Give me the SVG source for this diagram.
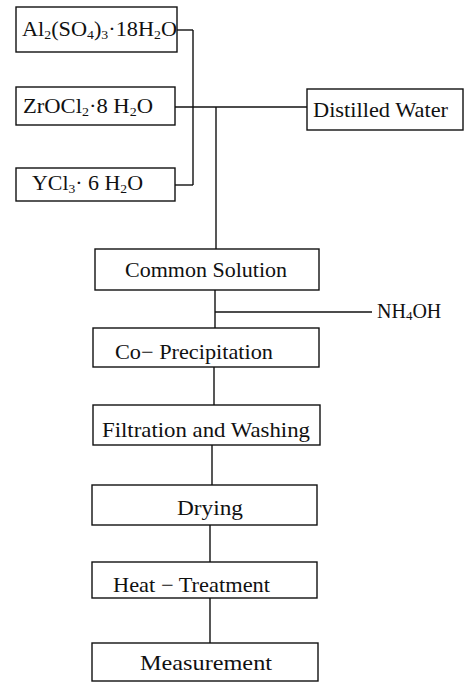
<svg xmlns="http://www.w3.org/2000/svg" width="466" height="685" viewBox="0 0 466 685">
<style>
.b{fill:#fff;stroke:#111;stroke-width:1.4}
line{stroke:#111;stroke-width:1.4}
text{font-family:"Liberation Serif","DejaVu Serif","Times New Roman",serif;font-size:21px;fill:#111}
.s{font-size:13px}
</style>
<rect x="0" y="0" width="466" height="685" style="fill:#fff;stroke:none"/>
<g id="connectors">
<line x1="177" y1="30" x2="193" y2="30"/>
<line x1="193" y1="30" x2="193" y2="185"/>
<line x1="175" y1="185" x2="193" y2="185"/>
<line x1="175" y1="107" x2="307" y2="107"/>
<line x1="216" y1="107" x2="216" y2="249"/>
<line x1="215" y1="290" x2="215" y2="328"/>
<line x1="215" y1="312" x2="372" y2="312"/>
<line x1="214" y1="367" x2="214" y2="405"/>
<line x1="212" y1="445" x2="212" y2="485"/>
<line x1="210" y1="525" x2="210" y2="562"/>
<line x1="210" y1="598" x2="210" y2="643"/>
</g>
<g id="al">
<rect class="b" x="16" y="7" width="161" height="45"/>
<text x="22" y="36" textLength="155" lengthAdjust="spacingAndGlyphs">Al<tspan class="s" dy="3">2</tspan><tspan dy="-3">(SO</tspan><tspan class="s" dy="3">4</tspan><tspan dy="-3">)</tspan><tspan class="s" dy="3">3</tspan><tspan dy="-3">·18H</tspan><tspan class="s" dy="3">2</tspan><tspan dy="-3">O</tspan></text>
</g>
<g id="zr">
<rect class="b" x="16" y="87" width="159" height="38"/>
<text x="23" y="113" textLength="130" lengthAdjust="spacingAndGlyphs">ZrOCl<tspan class="s" dy="3">2</tspan><tspan dy="-3">·8 H</tspan><tspan class="s" dy="3">2</tspan><tspan dy="-3">O</tspan></text>
</g>
<g id="ycl">
<rect class="b" x="16" y="168" width="159" height="33"/>
<text x="32" y="190" textLength="111" lengthAdjust="spacingAndGlyphs">YCl<tspan class="s" dy="3">3</tspan><tspan dy="-3">· 6 H</tspan><tspan class="s" dy="3">2</tspan><tspan dy="-3">O</tspan></text>
</g>
<g id="water">
<rect class="b" x="307" y="89" width="156" height="41"/>
<text x="313" y="117" textLength="135" lengthAdjust="spacingAndGlyphs">Distilled Water</text>
</g>
<g id="common">
<rect class="b" x="95" y="249" width="224" height="41"/>
<text x="125" y="277" textLength="162" lengthAdjust="spacingAndGlyphs">Common Solution</text>
</g>
<g id="nh4oh">
<text x="377" y="318" style="font-size:20px">NH<tspan class="s" dy="2">4</tspan><tspan dy="-2">OH</tspan></text>
</g>
<g id="coprec">
<rect class="b" x="93" y="328" width="226" height="39"/>
<text x="115" y="359" textLength="158" lengthAdjust="spacingAndGlyphs">Co− Precipitation</text>
</g>
<g id="filt">
<rect class="b" x="93" y="405" width="227" height="40"/>
<text x="102" y="437" textLength="208" lengthAdjust="spacingAndGlyphs">Filtration and Washing</text>
</g>
<g id="drying">
<rect class="b" x="92" y="485" width="225" height="40"/>
<text x="177" y="515" textLength="66" lengthAdjust="spacingAndGlyphs">Drying</text>
</g>
<g id="heat">
<rect class="b" x="92" y="562" width="225" height="36"/>
<text x="113" y="592" textLength="157" lengthAdjust="spacingAndGlyphs">Heat − Treatment</text>
</g>
<g id="measure">
<rect class="b" x="92" y="643" width="226" height="38"/>
<text x="140" y="670" textLength="132" lengthAdjust="spacingAndGlyphs">Measurement</text>
</g>
</svg>
